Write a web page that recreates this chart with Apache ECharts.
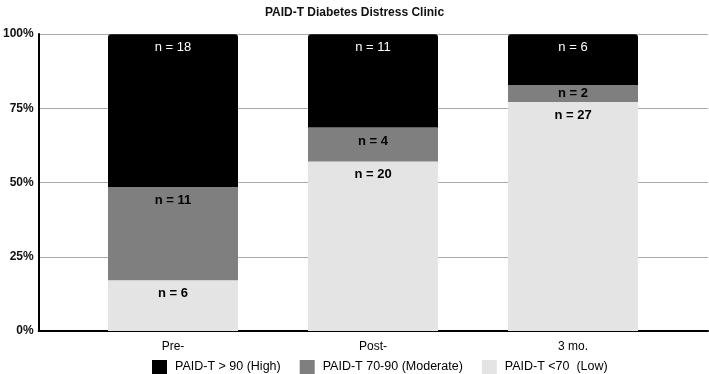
<!DOCTYPE html>
<html>
<head>
<meta charset="utf-8">
<script src="https://cdn.jsdelivr.net/npm/echarts@6/dist/echarts.min.js"></script>
<style>
  html, body { margin: 0; padding: 0; background: #fff; }
  #chart { width: 709px; height: 374px; }
</style>
</head>
<body>
<div id="chart"></div>
<script>
var categories = ['Pre-', 'Post-', '3 mo.'];

// counts shown in the labels
var countLow = [6, 20, 27];
var countModerate = [11, 4, 2];
var countHigh = [18, 11, 6];

// share of patients per group, %
var pctLow = [17.1, 57.1, 77.1];
var pctModerate = [31.4, 11.4, 5.7];
var pctHigh = [51.4, 31.4, 17.1];

var yTicks = [0, 25, 50, 75, 100];

var font = 'Liberation Sans, Arial, sans-serif';

function nLabel(counts, color, weight) {
	return {
		show: true,
		position: 'insideTop',
		distance: 7,
		color: color,
		fontSize: 13,
		fontWeight: weight,
		fontFamily: font,
		formatter: function(p){ return 'n = ' + counts[p.dataIndex]; }
	};
}

// thin segments get their label pulled up so it stays inside
function segData(values) {
	return values.map(function(v){
		return v < 8 ? {value: v, label: {distance: 2}} : v;
	});
}

var chart = echarts.init(document.getElementById('chart'));
chart.setOption({
	animation: false,
	textStyle: {fontFamily: font},
	title: {
		text: 'PAID-T Diabetes Distress Clinic',
		left: 'center',
		top: 2,
		textStyle: {fontSize: 12, fontWeight: 'bold', color: '#111', fontFamily: font}
	},
	legend: {
		left: 147,
		top: 355,
		itemWidth: 15,
		itemHeight: 14,
		itemGap: 19,
		icon: 'rect',
		textStyle: {fontSize: 12.5, color: '#000', fontFamily: font, padding: [0, 0, 0, 3]},
		data: ['PAID-T > 90 (High)', 'PAID-T 70-90 (Moderate)', 'PAID-T <70  (Low)']
	},
	grid: [
		{left: 38, right: 1, top: 34, bottom: 43},
		{left: 73, right: 36, top: 34, bottom: 43}
	],
	xAxis: [{
		gridIndex: 0,
		type: 'category',
		data: [''],
		axisLine: {lineStyle: {color: '#000', width: 2}},
		axisTick: {show: false},
		axisLabel: {show: false}
	}, {
		gridIndex: 1,
		type: 'category',
		data: categories,
		axisLine: {show: false},
		axisTick: {show: false},
		axisLabel: {margin: 10, fontSize: 12, color: '#000', fontFamily: font}
	}],
	yAxis: [{
		gridIndex: 0,
		type: 'value',
		min: yTicks[0],
		max: yTicks[yTicks.length - 1],
		interval: 25,
		axisLine: {show: true, lineStyle: {color: '#000', width: 2}},
		axisTick: {show: false},
		axisLabel: {
			margin: 5,
			fontSize: 12,
			fontWeight: 'bold',
			color: '#111',
			fontFamily: font,
			formatter: '{value}%'
		},
		splitLine: {lineStyle: {color: '#aaa', width: 1}}
	}, {
		gridIndex: 1,
		type: 'value',
		min: 0,
		max: 100,
		show: false
	}],
	series: [{
		name: 'PAID-T <70  (Low)',
		type: 'bar',
		stack: 'all',
		xAxisIndex: 1,
		yAxisIndex: 1,
		barWidth: 130,
		itemStyle: {color: '#e4e4e4'},
		label: nLabel(countLow, '#000', 'bold'),
		data: segData(pctLow)
	}, {
		name: 'PAID-T 70-90 (Moderate)',
		type: 'bar',
		stack: 'all',
		xAxisIndex: 1,
		yAxisIndex: 1,
		barWidth: 130,
		itemStyle: {color: '#7f7f7f'},
		label: nLabel(countModerate, '#000', 'bold'),
		data: segData(pctModerate)
	}, {
		name: 'PAID-T > 90 (High)',
		type: 'bar',
		stack: 'all',
		xAxisIndex: 1,
		yAxisIndex: 1,
		barWidth: 130,
		itemStyle: {color: '#000', borderRadius: [3, 3, 0, 0]},
		label: nLabel(countHigh, '#fff', 'normal'),
		data: segData(pctHigh)
	}]
});
</script>
</body>
</html>
